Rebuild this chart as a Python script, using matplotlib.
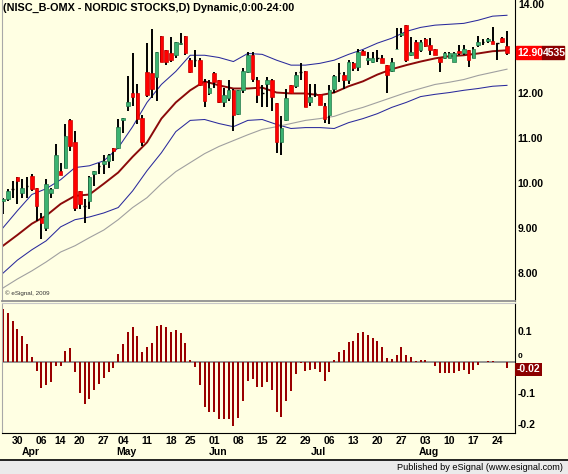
import matplotlib
matplotlib.use('Agg')
import matplotlib.pyplot as plt
import matplotlib.transforms as mtransforms
from matplotlib.patches import Rectangle
import numpy as np

# daily bars, 25 Mar - 26 Aug 2009 (one entry per trading day)
opens = [9.61, 9.66, 9.88, 10.13, 9.79, 9.95, 10.17, 9.90, 9.23, 9.00,
         9.79, 9.90, 10.28, 10.35, 11.40, 10.91, 9.83, 9.50, 9.61, 10.21,
         10.39, 10.44, 10.50, 10.79, 10.79, 11.42, 11.71, 12.00, 12.02, 11.46,
         12.47, 12.45, 12.36, 13.27, 12.96, 12.89, 12.85, 13.09, 13.27, 12.74,
         12.74, 12.74, 12.25, 12.00, 12.45, 12.29, 11.80, 11.89, 12.07, 11.55,
         12.07, 12.47, 12.85, 12.29, 12.02, 12.22, 12.31, 11.78, 10.91, 11.40,
         12.18, 12.16, 12.47, 12.51, 11.80, 12.00, 11.98, 11.71, 11.51, 12.09,
         12.45, 12.42, 12.29, 12.67, 12.58, 12.94, 12.74, 12.69, 12.80, 12.78,
         12.63, 12.51, 12.98, 13.29, 13.52, 12.85, 13.14, 12.96, 13.21, 13.07,
         12.98, 12.80, 12.80, 12.80, 12.69, 12.94, 12.89, 12.96, 12.80, 13.07,
         13.14, 13.16, 13.16, 13.12, 13.23, 13.05]
highs = [9.68, 9.88, 10.06, 10.13, 10.10, 10.13, 10.21, 9.90, 9.34, 10.10,
         9.90, 10.88, 10.46, 11.33, 11.44, 11.17, 9.83, 9.66, 10.17, 10.28,
         10.46, 10.62, 10.66, 10.79, 11.44, 11.46, 12.38, 12.89, 12.22, 11.51,
         13.12, 13.43, 12.92, 13.27, 12.96, 13.25, 13.14, 13.34, 13.27, 12.80,
         12.96, 12.80, 12.33, 12.29, 12.47, 12.29, 12.13, 12.29, 12.09, 12.07,
         12.56, 12.92, 12.92, 12.36, 12.18, 12.36, 12.33, 11.78, 11.49, 12.11,
         12.18, 12.47, 12.67, 12.51, 12.20, 12.22, 11.98, 11.78, 12.18, 12.40,
         12.67, 12.47, 12.74, 12.69, 12.98, 12.96, 12.92, 12.92, 12.96, 12.85,
         12.63, 12.80, 13.45, 13.45, 13.52, 13.25, 13.18, 13.18, 13.23, 13.23,
         12.98, 12.80, 12.92, 12.92, 12.92, 13.07, 13.07, 12.96, 13.03, 13.27,
         13.21, 13.23, 13.47, 13.12, 13.25, 13.38]
lows = [9.32, 9.61, 9.68, 9.54, 9.68, 9.68, 9.83, 9.17, 8.76, 8.94,
        9.68, 9.90, 10.19, 10.33, 10.73, 9.39, 9.43, 9.12, 9.43, 9.95,
        10.21, 10.21, 10.35, 10.50, 10.77, 11.13, 11.62, 11.73, 11.33, 10.82,
        11.91, 11.89, 11.84, 12.69, 12.63, 12.69, 12.80, 13.07, 12.85, 12.45,
        12.58, 12.16, 11.69, 11.96, 12.13, 11.78, 11.69, 11.84, 11.17, 11.51,
        12.02, 12.45, 12.25, 11.78, 11.69, 11.69, 11.62, 10.68, 10.62, 11.38,
        11.98, 12.13, 12.29, 11.69, 11.73, 11.91, 11.75, 11.35, 11.33, 12.02,
        12.25, 12.11, 12.22, 12.51, 12.51, 12.85, 12.63, 12.67, 12.69, 12.67,
        12.02, 12.47, 12.98, 13.25, 12.69, 12.83, 12.78, 12.92, 13.03, 12.85,
        12.85, 12.47, 12.76, 12.80, 12.69, 12.85, 12.85, 12.58, 12.78, 13.03,
        13.07, 13.12, 13.09, 12.74, 13.12, 12.85]
closes = [9.66, 9.83, 9.88, 10.06, 9.90, 9.95, 9.88, 9.50, 9.12, 9.99,
          9.88, 10.62, 10.19, 11.06, 10.84, 9.46, 9.54, 9.50, 10.13, 10.28,
          10.39, 10.50, 10.62, 10.71, 11.26, 11.46, 11.82, 11.91, 11.44, 10.91,
          11.96, 12.11, 12.92, 12.69, 12.69, 12.74, 13.14, 13.12, 12.89, 12.47,
          12.74, 12.18, 11.84, 12.13, 12.25, 11.80, 11.96, 12.07, 11.51, 12.07,
          12.51, 12.85, 12.33, 11.96, 12.02, 12.31, 11.91, 10.91, 11.24, 11.89,
          12.00, 12.42, 12.47, 11.69, 11.93, 12.00, 11.75, 11.44, 12.07, 12.38,
          12.45, 12.29, 12.69, 12.56, 12.92, 12.85, 12.78, 12.80, 12.80, 12.67,
          12.40, 12.69, 13.00, 13.34, 12.74, 12.92, 12.80, 13.14, 13.05, 12.96,
          12.85, 12.69, 12.89, 12.89, 12.89, 12.89, 12.98, 12.74, 13.00, 13.14,
          13.14, 13.21, 13.09, 13.12, 13.14, 12.90]

# study lines, read every third bar
line_idx = list(range(0, 106, 3))
upper_band = [9.01, 9.39, 9.75, 9.88, 10.08, 10.35, 10.39, 10.50, 10.79, 11.26,
              11.80, 12.20, 12.49, 12.85, 12.85, 12.80, 12.71, 12.89, 12.87, 12.74,
              12.63, 12.63, 12.67, 12.74, 12.87, 12.98, 13.12, 13.23, 13.38, 13.47,
              13.52, 13.54, 13.56, 13.63, 13.72, 13.74]
mid_line = [8.61, 8.85, 9.10, 9.28, 9.54, 9.72, 9.75, 9.99, 10.24, 10.59,
            10.91, 11.44, 11.80, 12.07, 12.27, 12.18, 12.11, 12.11, 12.13, 12.02,
            12.00, 12.00, 11.96, 12.02, 12.16, 12.27, 12.42, 12.54, 12.63, 12.71,
            12.78, 12.83, 12.85, 12.89, 12.94, 12.96]
lower_band = [8.00, 8.29, 8.52, 8.72, 9.03, 9.19, 9.25, 9.34, 9.46, 9.83,
              10.28, 10.68, 11.15, 11.40, 11.42, 11.33, 11.26, 11.40, 11.42, 11.31,
              11.22, 11.24, 11.24, 11.22, 11.35, 11.44, 11.55, 11.69, 11.80, 11.93,
              11.98, 12.02, 12.07, 12.11, 12.16, 12.18]
slow_ma = [7.67, 7.87, 8.05, 8.25, 8.47, 8.61, 8.79, 8.96, 9.19, 9.46,
           9.68, 9.99, 10.26, 10.46, 10.66, 10.82, 10.95, 11.08, 11.20, 11.26,
           11.33, 11.40, 11.44, 11.49, 11.60, 11.69, 11.80, 11.91, 12.02, 12.11,
           12.20, 12.25, 12.31, 12.40, 12.47, 12.54]

# lower study histogram
osc = [0.169, 0.156, 0.130, 0.105, 0.083, 0.058, 0.015, -0.030, -0.084, -0.076,
       -0.065, -0.014, -0.014, 0.035, 0.043, -0.032, -0.102, -0.135, -0.120, -0.093,
       -0.073, -0.054, -0.032, -0.019, 0.024, 0.057, 0.095, 0.111, 0.083, 0.030,
       0.048, 0.059, 0.115, 0.118, 0.111, 0.095, 0.101, 0.093, 0.059, 0.005,
       -0.016, -0.076, -0.147, -0.161, -0.161, -0.186, -0.186, -0.186, -0.207, -0.183,
       -0.126, -0.062, -0.057, -0.081, -0.081, -0.065, -0.091, -0.161, -0.177, -0.127,
       -0.094, -0.040, -0.003, -0.030, -0.027, -0.025, -0.034, -0.061, -0.032, 0.005,
       0.032, 0.038, 0.063, 0.067, 0.092, 0.094, 0.086, 0.077, 0.067, 0.048,
       0.012, 0.009, 0.022, 0.046, 0.022, 0.016, 0.003, 0.005, 0.005, -0.002,
       -0.013, -0.037, -0.037, -0.036, -0.036, -0.030, -0.027, -0.040, -0.027, -0.011,
       -0.002, 0.003, 0.002, -0.002, -0.002, -0.019]

day_ticks = [3, 8, 12, 16, 21, 25, 30, 35, 39, 44, 49, 54, 58, 63, 68, 73, 78, 83, 88, 93, 98, 103]
day_labels = ['30', '06', '14', '20', '27', '04', '11', '18', '25', '01', '08', '15',
              '22', '29', '06', '13', '20', '27', '03', '10', '17', '24']
month_pos = [5, 25, 44, 65, 88]
month_labels = ['Apr', 'May', 'Jun', 'Jul', 'Aug']

# 13.00 sits under the last-price box in the reference, so it is left out
price_ticks = [8, 9, 10, 11, 12]
osc_ticks = [0.1, -0.1, -0.2]

bg = '#ffffe3'
plt.rcParams['font.family'] = ['Liberation Sans', 'DejaVu Sans']

fig = plt.figure(figsize=(5.68, 4.74), dpi=100, facecolor=bg)
ax = fig.add_axes([2 / 568, 1 - 301 / 474, 513 / 568, 301 / 474], facecolor=bg)
ax2 = fig.add_axes([2 / 568, 1 - 433 / 474, 513 / 568, 130 / 474], facecolor=bg)

o = np.array(opens)
h = np.array(highs)
l = np.array(lows)
c = np.array(closes)
idx = np.arange(len(c))
up = c > o
dn = c < o
flat = c == o

# study lines
ax.plot(line_idx, upper_band, color='#2a2a9c', lw=0.75, zorder=1)
ax.plot(line_idx, lower_band, color='#2a2a9c', lw=0.75, zorder=1)
ax.plot(line_idx, slow_ma, color='#a0a0a0', lw=0.8, zorder=1)
ax.plot(line_idx, mid_line, color='#8b0a0a', lw=1.4, zorder=1)

# candles
ax.vlines(idx, l, h, color='black', lw=1.4, zorder=2)
ax.bar(idx[up], (c - o)[up], bottom=o[up], width=0.75, color='#3cb371',
       edgecolor='#23784a', lw=0.5, zorder=3)
ax.bar(idx[dn], (o - c)[dn], bottom=c[dn], width=0.75, color='#ff0000',
       edgecolor='#c80000', lw=0.5, zorder=3)
ax.hlines(o[flat], idx[flat] - 0.3, idx[flat] + 0.3, color='black', lw=1, zorder=3)

xmin, xmax = -0.21, 106.67
ax.set_xlim(xmin, xmax)
ax.set_ylim(7.38, 14.08)
ax.set_xticks([])
ax.yaxis.tick_right()
ax.set_yticks(price_ticks, ['%.2f' % v for v in price_ticks], fontweight='bold')
ax.tick_params(axis='y', length=0, pad=2, labelsize=7.5)
ax.text(1.006, 14.07, '14.00', transform=mtransforms.blended_transform_factory(ax.transAxes, ax.transData),
        ha='left', va='top', fontsize=7.5, fontweight='bold', clip_on=False)

ax.spines['top'].set_visible(False)
ax.spines['left'].set_color('#a8a8a8')
ax.spines['right'].set_color('black')
ax.spines['bottom'].set_color('#909090')
ax.spines['bottom'].set_linewidth(1.3)

# last price box
tr = mtransforms.blended_transform_factory(ax.transAxes, ax.transData)
last = closes[-1]
ax.add_patch(Rectangle((1.002, last - 0.14), 0.051, 0.29, transform=tr, color='#ff0000',
                       clip_on=False, zorder=9))
ax.add_patch(Rectangle((1.053, last - 0.14), 0.042, 0.29, transform=tr, color='#8b0000',
                       clip_on=False, zorder=9))
ax.text(1.004, last, '%.2f' % last, transform=tr, color='white', fontsize=7.5,
        fontweight='bold', ha='left', va='center', clip_on=False, zorder=10)
ax.text(1.055, last, '4535', transform=tr, color='white', fontsize=7.5,
        fontweight='bold', ha='left', va='center', clip_on=False, zorder=10)

ax.text(0.006, 7.52, '\u00a9 eSignal, 2009', fontsize=4.5, color='#333333',
        transform=mtransforms.blended_transform_factory(ax.transAxes, ax.transData))

# histogram panel
ax2.axhline(0, color='#8c8c8c', lw=1.3, zorder=1)
ax2.bar(idx, osc, width=0.42, color='#990000', zorder=2)
ax2.set_xlim(xmin, xmax)
ax2.set_ylim(-0.230, 0.189)
ax2.yaxis.tick_right()
ax2.set_yticks(osc_ticks, ['0.1', '-0.1', '-0.2'], fontweight='bold')
ax2.tick_params(axis='y', length=0, pad=2, labelsize=7.5)
ax2.set_xticks(day_ticks, day_labels, fontweight='bold')
ax2.tick_params(axis='x', length=0, pad=2, labelsize=7.5)
ax2.spines['top'].set_color('#c8c8c8')
ax2.spines['left'].set_color('#a8a8a8')
ax2.spines['right'].set_color('black')
ax2.spines['bottom'].set_color('black')

tr3 = mtransforms.blended_transform_factory(ax2.transAxes, ax2.transData)
# zero label peeks out above the last-value box
ax2.text(1.006, 0.006, '0', transform=tr3, fontsize=6, fontweight='bold',
         ha='left', va='bottom', clip_on=False)

tr2 = mtransforms.blended_transform_factory(ax2.transData, ax2.transAxes)
for pos, lab in zip(month_pos, month_labels):
    ax2.text(pos + 0.8, -0.148, lab, transform=tr2, ha='center', va='center',
             fontsize=7.5, fontweight='bold', clip_on=False)

last_osc = osc[-1]
ax2.text(1.004, last_osc - 0.006, '%.2f' % last_osc, transform=tr3, color='white', fontsize=7.5,
         fontweight='bold', ha='left', va='center', clip_on=False, zorder=10,
         bbox=dict(boxstyle='square,pad=0.15', fc='#8b0000', ec='none'))

fig.text(3 / 568, 1 - 8 / 474, '(NISC_B-OMX - NORDIC STOCKS,D) Dynamic,0:00-24:00',
         fontsize=7.8, fontweight='bold', ha='left', va='center')

# status bar
sb = fig.add_axes([0, 0, 1, 14 / 474], facecolor='#ebebeb')
sb.set_xticks([])
sb.set_yticks([])
for s in ['left', 'right', 'bottom']:
    sb.spines[s].set_visible(False)
sb.spines['top'].set_color('black')
sb.spines['top'].set_linewidth(1.2)
sb.text(0.991, 0.45, 'Published by eSignal (www.esignal.com)', ha='right', va='center',
        fontsize=6.6, transform=sb.transAxes)

fig.savefig('out.png', dpi=100, facecolor=bg)
